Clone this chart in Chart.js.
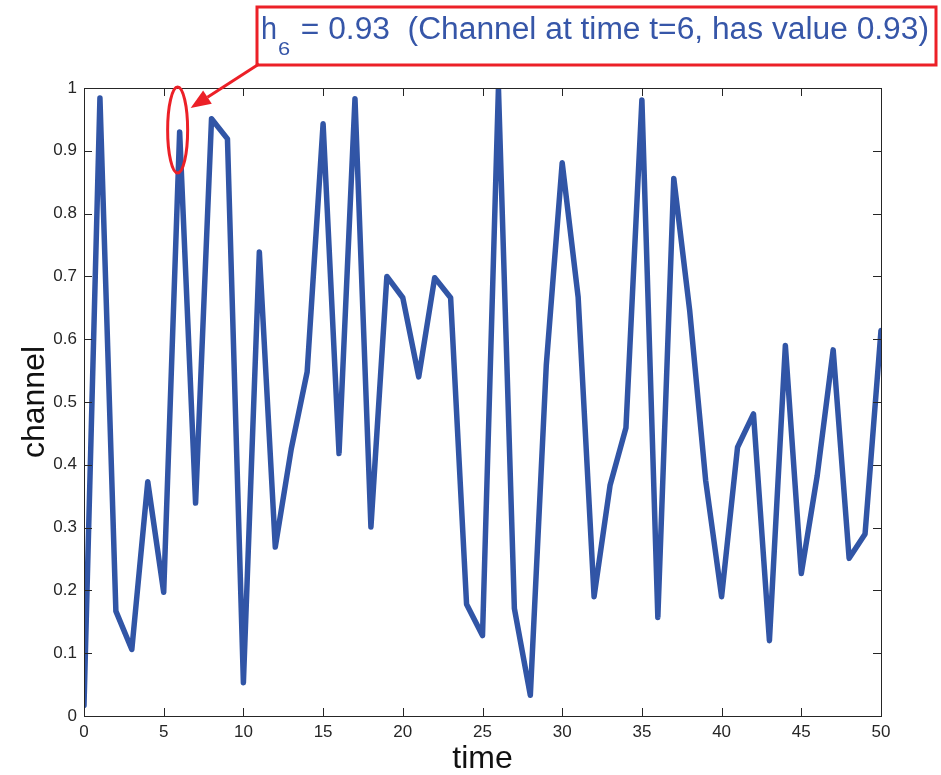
<!DOCTYPE html>
<html>
<head>
<meta charset="utf-8">
<script src="https://cdn.jsdelivr.net/npm/chart.js@4/dist/chart.umd.min.js"></script>
<style>
html,body{margin:0;padding:0;background:#fff;}
#wrap{width:941px;height:775px;position:relative;}
</style>
</head>
<body>
<div id="wrap"><canvas id="c" width="941" height="775"></canvas></div>
<script>
const times = [0,1,2,3,4,5,6,7,8,9,10,11,12,13,14,15,16,17,18,19,20,21,22,23,24,25,26,27,28,29,30,31,32,33,34,35,36,37,38,39,40,41,42,43,44,45,46,47,48,49,50];
const channel = [0.017,0.984,0.167,0.106,0.373,0.197,0.93,0.339,0.951,0.919,0.053,0.739,0.269,0.425,0.548,0.943,0.418,0.983,0.301,0.70,0.666,0.54,0.698,0.666,0.178,0.128,1.0,0.171,0.033,0.558,0.881,0.667,0.19,0.367,0.459,0.981,0.157,0.856,0.645,0.375,0.19,0.428,0.481,0.12,0.59,0.227,0.383,0.583,0.251,0.29,0.614];
const xTicks = [0,5,10,15,20,25,30,35,40,45,50];
const yTicks = [0,0.1,0.2,0.3,0.4,0.5,0.6,0.7,0.8,0.9,1];
const xTitle = 'time';
const yTitle = 'channel';
const noteMain = 'h';
const noteSub = '6';
const noteRest = ' = 0.93  (Channel at time t=6, has value 0.93)';
const noteT = 6;
const noteV = 0.93;

const AX = '#262626';
const LINE = '#3155A6';
const RED = '#EC2027';
const FONT = '"Liberation Sans", Arial, Helvetica, sans-serif';

const frame = {
  id: 'frame',
  afterDraw(chart) {
    const {ctx, chartArea: a, scales: {x, y}} = chart;
    ctx.save();
    ctx.strokeStyle = AX;
    ctx.lineWidth = 1;
    ctx.beginPath();
    xTicks.forEach(v => {
      const p = Math.round(x.getPixelForValue(v)) + 0.5;
      ctx.moveTo(p, a.bottom); ctx.lineTo(p, a.bottom - 8);
      ctx.moveTo(p, a.top); ctx.lineTo(p, a.top + 8);
    });
    yTicks.forEach(v => {
      const p = Math.round(y.getPixelForValue(v)) + 0.5;
      ctx.moveTo(a.left, p); ctx.lineTo(a.left + 8, p);
      ctx.moveTo(a.right, p); ctx.lineTo(a.right - 8, p);
    });
    ctx.stroke();
    ctx.strokeRect(Math.round(a.left) + 0.5, Math.round(a.top) + 0.5, Math.round(a.right - a.left), Math.round(a.bottom - a.top));

    // axis titles
    ctx.fillStyle = '#111';
    ctx.font = '32px ' + FONT;
    ctx.textAlign = 'center';
    ctx.textBaseline = 'alphabetic';
    ctx.fillText(xTitle, (a.left + a.right) / 2, 768);
    ctx.save();
    ctx.translate(44, (a.top + a.bottom) / 2);
    ctx.rotate(-Math.PI / 2);
    ctx.fillText(yTitle, 0, 0);
    ctx.restore();

    // annotation
    const px = x.getPixelForValue(noteT), py = y.getPixelForValue(noteV);
    ctx.strokeStyle = RED;
    ctx.fillStyle = RED;
    ctx.lineWidth = 3;
    ctx.beginPath();
    ctx.ellipse(px - 2, py - 2, 10, 43, 0, 0, Math.PI * 2);
    ctx.stroke();

    // box
    const bx = 257, by = 7, bw = 679, bh = 58;
    ctx.strokeRect(bx, by, bw, bh);

    // arrow from box corner to ellipse
    const sx = bx + 2, sy = by + bh - 1, tx = px + 11, ty = py - 24;
    const ang = Math.atan2(ty - sy, tx - sx);
    const hl = 20, hw = 8;
    const bxp = tx - hl * Math.cos(ang), byp = ty - hl * Math.sin(ang);
    ctx.beginPath();
    ctx.moveTo(sx, sy); ctx.lineTo(bxp, byp);
    ctx.stroke();
    ctx.beginPath();
    ctx.moveTo(tx, ty);
    ctx.lineTo(bxp + hw * Math.sin(ang), byp - hw * Math.cos(ang));
    ctx.lineTo(bxp - hw * Math.sin(ang), byp + hw * Math.cos(ang));
    ctx.closePath();
    ctx.fill();

    // text
    ctx.fillStyle = '#3656A8';
    ctx.textAlign = 'left';
    ctx.font = '32px ' + FONT;
    const hwid = ctx.measureText(noteMain).width;
    ctx.save();
    ctx.translate(261, 39);
    ctx.scale(0.9, 1);
    ctx.fillText(noteMain, 0, 0);
    ctx.restore();
    ctx.font = '19px ' + FONT;
    ctx.save();
    ctx.translate(278, 55);
    ctx.scale(1.15, 1);
    ctx.fillText(noteSub, 0, 0);
    ctx.restore();
    ctx.font = '31px ' + FONT;
    const startX = 292;
    const target = 929 - startX;
    const w = ctx.measureText(noteRest).width;
    ctx.save();
    ctx.translate(startX, 39);
    ctx.scale(target / w, 1);
    ctx.fillText(noteRest, 0, 0);
    ctx.restore();
    ctx.restore();
  }
};

new Chart(document.getElementById('c'), {
  type: 'line',
  data: {
    datasets: [{
      data: times.map((t, i) => ({x: t, y: channel[i]})),
      borderColor: LINE,
      borderWidth: 5.5,
      pointRadius: 0,
      tension: 0,
      borderJoinStyle: 'round',
      borderCapStyle: 'round',
      clip: 0
    }]
  },
  options: {
    responsive: false,
    animation: false,
    events: [],
    layout: {padding: {left: 0, right: 60, top: 88, bottom: 0}},
    plugins: {legend: {display: false}, tooltip: {enabled: false}},
    scales: {
      x: {
        type: 'linear', min: 0, max: 50,
        border: {display: false},
        grid: {display: false, drawTicks: false},
        afterBuildTicks: s => { s.ticks = xTicks.map(v => ({value: v})); },
        ticks: {padding: 6, color: AX, font: {family: FONT, size: 17}, maxRotation: 0,
          callback: v => String(v)},
        afterFit: s => { s.height = 59; }
      },
      y: {
        type: 'linear', min: 0, max: 1,
        border: {display: false},
        grid: {display: false, drawTicks: false},
        afterBuildTicks: s => { s.ticks = yTicks.map(v => ({value: v})); },
        ticks: {padding: 7, color: AX, font: {family: FONT, size: 17},
          callback: v => String(+(+v).toFixed(1))},
        afterFit: s => { s.width = 84; }
      }
    }
  },
  plugins: [frame]
});
</script>
</body>
</html>
